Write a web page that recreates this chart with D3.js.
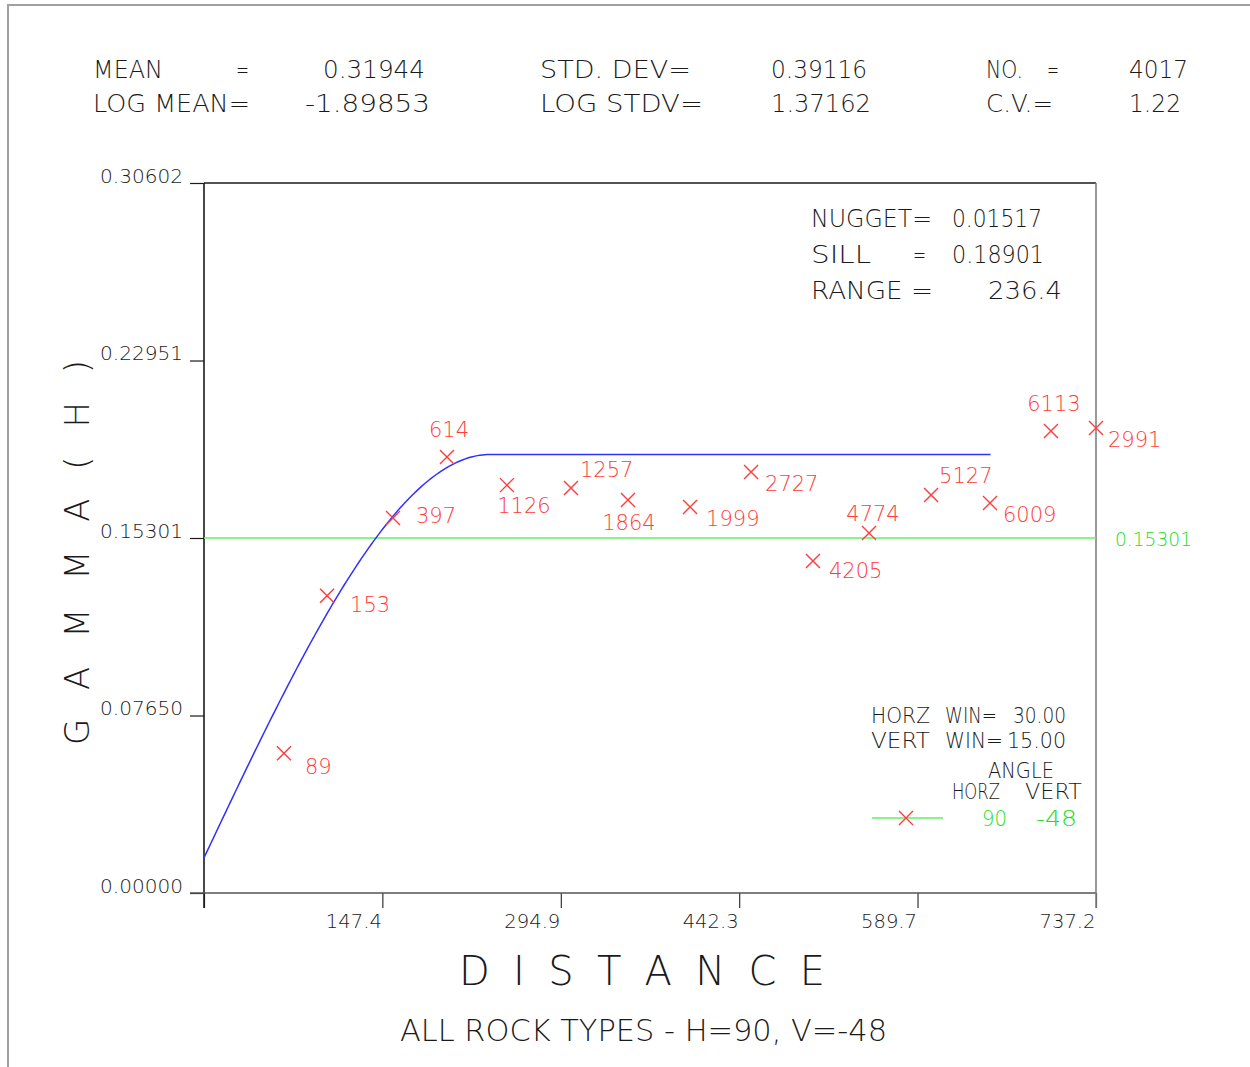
<!DOCTYPE html>
<html>
<head>
<meta charset="utf-8">
<script src="https://cdn.jsdelivr.net/npm/d3@7"></script>
<style>
  html, body { margin: 0; padding: 0; background: #fff; }
  svg { display: block; }
  text { font-family: "DejaVu Sans", sans-serif; font-weight: 200; }
</style>
</head>
<body>
<svg id="chart" width="1250" height="1067"></svg>
<script>
// ---- experimental variogram: lag distance, gamma and number of pairs ----
const lagDistance = [66.1, 101.7, 156.2, 200.8, 250.4, 303.3, 350.4, 401.7, 452.1, 503.3, 549.6, 600.9, 649.6, 700.0, 737.2];
const gammaValue  = [0.0602, 0.1281, 0.1616, 0.1879, 0.1758, 0.1746, 0.1694, 0.1664, 0.1815, 0.1431, 0.1552, 0.1715, 0.1681, 0.1991, 0.2004];
const pairCount   = [89, 153, 397, 614, 1126, 1257, 1864, 1999, 2727, 4205, 4774, 5127, 6009, 6113, 2991];

// ---- fitted spherical model ----
const nugget = 0.01517;
const sill = 0.18901;
const range = 236.4;
const modelMaxLag = 650;

// ---- sample variance line ----
const variance = 0.15301;

// ---- axis ticks ----
const xTicks = [0, 147.4, 294.9, 442.3, 589.7, 737.2];
const yTicks = [0.00000, 0.07650, 0.15301, 0.22951, 0.30602];

// ---- summary statistics ----
const stats = {
  mean: "0.31944", stdDev: "0.39116", count: "4017",
  logMean: "-1.89853", logStdv: "1.37162", cv: "1.22"
};
const searchWindow = { horz: "30.00", vert: "15.00" };
const direction = { horz: "90", vert: "-48" };
const subtitle = "ALL ROCK TYPES - H=90, V=-48";

// label placement around each cross, indexed like pairCount
const labelPlace = [
  {dx: 21, dy: 21, a: "start"}, {dx: 23, dy: 16, a: "start"}, {dx: 23, dy: 5, a: "start"},
  {dx: 2, dy: -20, a: "middle"}, {dx: 17, dy: 28, a: "middle"}, {dx: 9, dy: -11, a: "start"},
  {dx: 1, dy: 30, a: "middle"}, {dx: 16, dy: 19, a: "start"}, {dx: 14, dy: 19, a: "start"},
  {dx: 16, dy: 17, a: "start"}, {dx: 4, dy: -12, a: "middle"}, {dx: 8, dy: -12, a: "start"},
  {dx: 13, dy: 19, a: "start"}, {dx: 3, dy: -20, a: "middle"}, {dx: 12, dy: 19, a: "start"}
];

const svg = d3.select("#chart");
const W = 1250, H = 1067;

// outer frame
svg.append("path")
  .attr("d", `M8,${H} L8,5 L${W},5`)
  .attr("fill", "none").attr("stroke", "#a0a0a0").attr("stroke-width", 2);

const plotLeft = 204, plotRight = 1096, plotTop = 183, plotBottom = 893;
const x = d3.scaleLinear().domain([0, 737.2]).range([plotLeft, plotRight]);
const y = d3.scaleLinear().domain([0, 0.30602]).range([plotBottom, plotTop]);

const ink = "#1a1a1a";
const red = "#ff3b3b";
const green = "#22dd22";
const blue = "#3030ff";

function txt(g, s, px, py, opts = {}) {
  const t = g.append("text")
    .attr("x", px).attr("y", py)
    .attr("font-size", opts.size || 25)
    .attr("fill", opts.fill || ink)
    .attr("text-anchor", opts.anchor || "start")
    .text(s);
  if (opts.len) t.attr("textLength", opts.len).attr("lengthAdjust", "spacingAndGlyphs");
  return t;
}

// ---- header statistics ----
const hdr = svg.append("g");
txt(hdr, "MEAN", 93, 78, {len: 70});
txt(hdr, "=", 236, 78, {len: 13});
txt(hdr, stats.mean, 323, 78, {len: 102});
txt(hdr, "STD. DEV=", 540, 78, {len: 151});
txt(hdr, stats.stdDev, 771, 78, {len: 96});
txt(hdr, "NO.", 986, 78, {len: 37});
txt(hdr, "=", 1047, 78, {len: 12});
txt(hdr, stats.count, 1129, 78, {len: 59});
txt(hdr, "LOG MEAN=", 93, 112, {len: 157});
txt(hdr, stats.logMean, 305, 112, {len: 125});
txt(hdr, "LOG STDV=", 540, 112, {len: 163});
txt(hdr, stats.logStdv, 771, 112, {len: 100});
txt(hdr, "C.V.=", 986, 112, {len: 67});
txt(hdr, stats.cv, 1129, 112, {len: 52});

// ---- axes ----
const fmt = d3.format(".5f");
const yAxis = svg.append("g")
  .attr("transform", `translate(${plotLeft},0)`)
  .call(d3.axisLeft(y).tickValues(yTicks).tickFormat(fmt).tickSize(14).tickPadding(7));
yAxis.select(".domain").remove();
yAxis.selectAll(".tick line").attr("stroke", ink).attr("stroke-width", 1.2);
yAxis.selectAll(".tick text")
  .attr("font-family", null).attr("font-size", 20)
  .attr("fill", ink).attr("dy", "-0.05em")
  .attr("textLength", 83).attr("lengthAdjust", "spacingAndGlyphs");

const xAxis = svg.append("g")
  .attr("transform", `translate(0,${plotBottom})`)
  .call(d3.axisBottom(x).tickValues(xTicks).tickFormat(d => d === 0 ? "" : d3.format(".1f")(d)).tickSize(15).tickPadding(0));
xAxis.select(".domain").remove();
xAxis.selectAll(".tick line").attr("stroke", "#333").attr("stroke-width", 1.2);
xAxis.selectAll(".tick text")
  .attr("font-family", null).attr("font-size", 20)
  .attr("fill", ink).attr("text-anchor", "end").attr("x", -1).attr("y", 35).attr("dy", 0)
  .attr("textLength", 56).attr("lengthAdjust", "spacingAndGlyphs");

// plot frame: left axis, top line, bottom axis, right edge
svg.append("line").attr("x1", plotLeft).attr("x2", plotLeft).attr("y1", plotTop).attr("y2", plotBottom + 15)
  .attr("stroke", ink).attr("stroke-width", 1.6);
svg.append("line").attr("x1", plotLeft).attr("x2", plotRight).attr("y1", plotTop).attr("y2", plotTop)
  .attr("stroke", ink).attr("stroke-width", 1.6);
svg.append("line").attr("x1", plotLeft - 14).attr("x2", plotRight).attr("y1", plotBottom).attr("y2", plotBottom)
  .attr("stroke", "#555").attr("stroke-width", 1.6);
svg.append("line").attr("x1", plotRight).attr("x2", plotRight).attr("y1", plotTop).attr("y2", plotBottom + 15)
  .attr("stroke", "#808080").attr("stroke-width", 1.6);

// ---- axis titles ----
svg.append("text")
  .attr("transform", `translate(89,${745}) rotate(-90)`)
  .attr("font-size", 34).attr("fill", ink)
  .attr("textLength", 385).attr("lengthAdjust", "spacing")
  .text("G A M M A ( H )");

svg.append("text")
  .attr("x", 459).attr("y", 985)
  .attr("font-size", 40).attr("fill", ink)
  .attr("textLength", 366).attr("lengthAdjust", "spacing")
  .text("D I S T A N C E");

txt(svg, subtitle, 400, 1041, {size: 30, len: 487});

// ---- variance line ----
svg.append("line")
  .attr("x1", plotLeft).attr("x2", plotRight).attr("y1", y(variance)).attr("y2", y(variance))
  .attr("stroke", "#66ee66").attr("stroke-width", 1.4);
txt(svg, fmt(variance), 1115, y(variance) + 8, {size: 20, fill: green, len: 77});

// ---- spherical model curve ----
function spherical(h) {
  if (h >= range) return sill;
  const r = h / range;
  return nugget + (sill - nugget) * (1.5 * r - 0.5 * r * r * r);
}
const modelLags = d3.range(0, modelMaxLag + 0.01, 2);
svg.append("path")
  .datum(modelLags)
  .attr("fill", "none").attr("stroke", blue).attr("stroke-width", 1.5)
  .attr("d", d3.line().x(d => x(d)).y(d => y(spherical(d))));

// ---- experimental points ----
const pts = lagDistance.map((d, i) => ({d, g: gammaValue[i], n: pairCount[i], p: labelPlace[i]}));
const cross = 7;
const pg = svg.append("g");
pts.forEach(p => {
  const cx = x(p.d), cy = y(p.g);
  pg.append("path")
    .attr("d", `M${cx - cross},${cy - cross}L${cx + cross},${cy + cross}M${cx - cross},${cy + cross}L${cx + cross},${cy - cross}`)
    .attr("stroke", red).attr("stroke-width", 1.4).attr("fill", "none");
  pg.append("text")
    .attr("x", cx + p.p.dx).attr("y", cy + p.p.dy)
    .attr("text-anchor", p.p.a)
    .attr("font-size", 21).attr("fill", red)
    .text(p.n);
});

// ---- model parameters ----
const mp = svg.append("g");
txt(mp, "NUGGET=", 811, 227, {len: 121});
txt(mp, d3.format(".5f")(nugget), 952, 227, {len: 90});
txt(mp, "SILL", 811, 263, {len: 60});
txt(mp, "=", 913, 263, {len: 13});
txt(mp, d3.format(".5f")(sill), 952, 263, {len: 92});
txt(mp, "RANGE =", 811, 299, {len: 122});
txt(mp, d3.format(".1f")(range), 988, 299, {len: 74});

// ---- search window and direction legend ----
const lg = svg.append("g");
txt(lg, "HORZ", 871, 723, {size: 21, len: 59});
txt(lg, "WIN=", 945, 723, {size: 21, len: 52});
txt(lg, searchWindow.horz, 1013, 723, {size: 21, len: 53});
txt(lg, "VERT", 871, 748, {size: 21, len: 59});
txt(lg, "WIN=", 945, 748, {size: 21, len: 58});
txt(lg, searchWindow.vert, 1007, 748, {size: 21, len: 59});
txt(lg, "ANGLE", 988, 778, {size: 21, len: 66});
txt(lg, "HORZ", 952, 799, {size: 21, len: 48});
txt(lg, "VERT", 1025, 799, {size: 21, len: 57});
lg.append("line").attr("x1", 872).attr("x2", 943).attr("y1", 818).attr("y2", 818)
  .attr("stroke", "#66ee66").attr("stroke-width", 1.4);
lg.append("path")
  .attr("d", `M${906 - cross},${818 - cross}L${906 + cross},${818 + cross}M${906 - cross},${818 + cross}L${906 + cross},${818 - cross}`)
  .attr("stroke", red).attr("stroke-width", 1.4).attr("fill", "none");
txt(lg, direction.horz, 982, 826, {size: 21, fill: green, len: 25});
txt(lg, direction.vert, 1036, 826, {size: 21, fill: green, len: 41});
</script>
</body>
</html>
